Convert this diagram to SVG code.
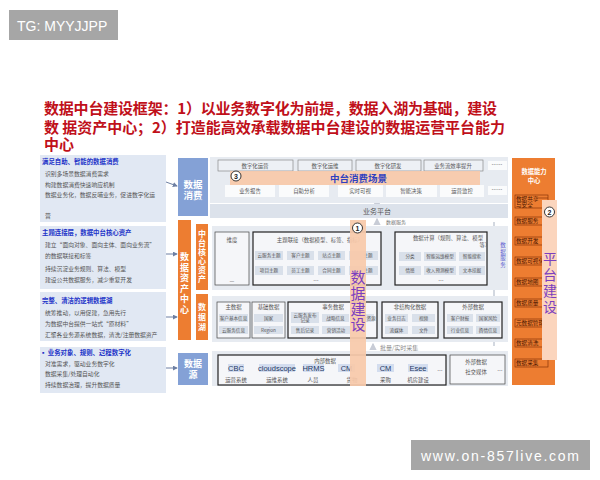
<svg xmlns="http://www.w3.org/2000/svg" width="600" height="480" viewBox="0 0 600 480">
<defs>
<style>
text{font-family:"Noto Sans CJK SC","Noto Sans",sans-serif}
.wm{fill:#a6a6a6}
.wmt{font-family:"Liberation Sans",Arial,sans-serif;fill:#fff;font-size:14px}
.ttl{fill:#c0101a;font-size:15px;font-weight:bold}
.lb{fill:#e1e8f3}
.lh{fill:#2233c8;font-size:6.4px;font-weight:bold}
.li{fill:#555;font-size:5.8px}
.pan{fill:#e7ebf1}
.blue{fill:#84a1d6}
.org{fill:#ed7d31}
.wt{fill:#fff;font-weight:bold;text-anchor:middle}
.b1{fill:#edf0f5;stroke:#7a7a7a;stroke-width:.6}
.b2{fill:#fafbfc}
.s{fill:#555;font-size:5.4px;text-anchor:middle}
.xs{fill:#555;font-size:4.6px;text-anchor:middle}
.bx{fill:#f5f6f9;stroke:#444;stroke-width:.7}
.bxk{fill:#f5f6f9;stroke:#222;stroke-width:1.2}
.cell{fill:#d9e0ea}
.tag{fill:#d3ddef}
.tg{fill:#1f3864;font-size:7.5px;text-anchor:middle;font-family:"Liberation Sans",Arial,sans-serif}
.peach{fill:#f8c9aa;opacity:.93}
.pur{fill:#7b3fbf;text-anchor:middle}
.ri{fill:none;stroke:#7a2a00;stroke-width:.6}
.rt{fill:#4a1500;font-size:5.6px}
.circ{fill:#fff;stroke:#222;stroke-width:.9}
.cn{fill:#222;font-size:7px;font-weight:bold;text-anchor:middle;font-family:"Liberation Sans",Arial,sans-serif}
.con{stroke:#6d7fa3;stroke-width:1;fill:none}
</style>
<marker id="ah" viewBox="0 0 6 6" refX="5" refY="3" markerWidth="5" markerHeight="5" orient="auto-start-reverse"><path d="M0,0L6,3L0,6z" fill="#6d7fa3"/></marker>
<marker id="ah2" viewBox="0 0 6 6" refX="5" refY="3" markerWidth="5" markerHeight="5" orient="auto-start-reverse"><path d="M0,0L6,3L0,6z" fill="#c8ccd6"/></marker>
</defs>
<rect width="600" height="480" fill="#fff"/>

<g id="watermark-top"><rect class="wm" x="9" y="10" width="109" height="30"/><text class="wmt" x="17" y="30.5">TG: MYYJJPP</text></g>
<g id="watermark-bottom"><rect class="wm" x="411" y="440" width="179" height="30"/><text class="wmt" x="421" y="460.5" font-size="15" textLength="158">www.on-857live.com</text></g>

<g id="title">
<text class="ttl" x="44" y="114" textLength="453">数据中台建设框架：1）以业务数字化为前提，数据入湖为基础，建设</text>
<text class="ttl" x="44" y="133" textLength="461">数 据资产中心；2）打造能高效承载数据中台建设的数据运营平台能力</text>
<text class="ttl" x="44" y="150">中心</text>
</g>

<g id="left-1"><rect class="lb" x="40" y="155" width="126" height="67"/>
<text class="lh" x="42" y="164">满足自助、智能的数据消费</text>
<text class="li" x="45" y="176">识别多场景数据消费需求</text>
<text class="li" x="45" y="186.5">构建数据消费快速响应机制</text>
<text class="li" x="45" y="196.5">数据业务化，数据反哺业务，促进数字化运</text>
<text class="li" x="45" y="217.5">营</text></g>
<g id="left-2"><rect class="lb" x="40" y="226" width="126" height="63"/>
<text class="lh" x="42" y="234.5">主题连接层，数据中台核心资产</text>
<text class="li" x="45" y="247">建立“面向对象、面向主体、面向业务流”</text>
<text class="li" x="45" y="258">的数据联接和标签</text>
<text class="li" x="45" y="271">持续沉淀业务规则、算法、模型</text>
<text class="li" x="45" y="281.5">建设公共数据服务，减少重复开发</text></g>
<g id="left-3"><rect class="lb" x="40" y="292" width="126" height="49"/>
<text class="lh" x="42" y="303">完整、清洁的逻辑数据湖</text>
<text class="li" x="45" y="315">统筹推动，以用促建，急用先行</text>
<text class="li" x="45" y="326">为数据中台提供一站式“原材料”</text>
<text class="li" x="45" y="337">汇聚各业务源系统数据，清洗/注册数据资产</text></g>
<g id="left-4"><rect class="lb" x="40" y="347" width="126" height="46"/>
<text class="lh" x="40" y="354.5">▪ 业务对象、规则、过程数字化</text>
<text class="li" x="45" y="365.5">对准需求，驱动业务数字化</text>
<text class="li" x="45" y="375.5">数据采集/处理自动化</text>
<text class="li" x="45" y="386.5">持续数据治理，提升数据质量</text></g>

<g id="connectors">
<path class="con" d="M166,182L177,186" marker-end="url(#ah)"/>
<path class="con" d="M166,254L177,254" marker-end="url(#ah)"/>
<path class="con" d="M166,317L177,317" marker-end="url(#ah)"/>
<path class="con" d="M166,368L177,368" marker-end="url(#ah)"/>
<path d="M383,269L393,269" stroke="#a4a8cc" stroke-width="1.2" marker-start="url(#ah2)" marker-end="url(#ah2)"/>
<path d="M377,225L377,219" stroke="#c8ccd6" stroke-width="1.5" marker-end="url(#ah2)"/>
<path d="M377,204L377,199" stroke="#d4d8e0" stroke-width="1.5" marker-end="url(#ah2)"/>
<path d="M373,350L373,344" stroke="#c8ccd6" stroke-width="1.5" marker-end="url(#ah2)"/>
<path d="M494,222L494,346" stroke="#d3d8e0" stroke-width="2"/>
</g>

<g id="consumption">
<rect class="blue" x="178" y="158" width="30" height="58"/>
<text class="wt" x="193" y="188" font-size="9.5">数据</text><text class="wt" x="193" y="199" font-size="9.5">消费</text>
<rect class="pan" x="210" y="157" width="298" height="46"/>
<rect class="b1" x="218" y="160" width="75" height="11"/><text class="s" x="255" y="167.5">数字化运营</text>
<rect class="b1" x="298" y="160" width="54" height="11"/><text class="s" x="325" y="167.5">数字化运维</text>
<rect class="b1" x="356" y="160" width="65" height="11"/><text class="s" x="388" y="167.5">数字化研发</text>
<rect class="b1" x="424" y="160" width="59" height="11"/><text class="s" x="453" y="167.5">业务流效率提升</text>
<rect class="b2" x="488" y="161" width="19" height="9"/><text class="s" x="497" y="167">……</text>
<rect class="b2" x="225" y="185" width="50" height="12"/><text class="s" x="250" y="193">业务报告</text>
<rect class="b2" x="279" y="185" width="50" height="12"/><text class="s" x="304" y="193">自助分析</text>
<rect class="b2" x="338" y="185" width="45" height="12"/><text class="s" x="360" y="193">实时可视</text>
<rect class="b2" x="386" y="185" width="51" height="12"/><text class="s" x="411" y="193">智能决策</text>
<rect class="b2" x="440" y="185" width="44" height="12"/><text class="s" x="462" y="193">运营监控</text>
<rect class="b2" x="488" y="186" width="19" height="9"/><text class="s" x="497" y="192">……</text>
<rect class="peach" x="230" y="171" width="250" height="14"/>
<text x="330" y="182" font-size="9.5" font-weight="bold" fill="#2f3fc0">中台消费场景</text>
<circle class="circ" cx="236" cy="176" r="5"/><text class="cn" x="236" y="178.5">3</text>
</g>

<g id="business-platform"><rect x="210" y="204" width="298" height="14" fill="#dce2eb"/>
<text x="377" y="213.5" font-size="7" fill="#555" text-anchor="middle">业务平台</text>
<text x="386" y="224" font-size="5" fill="#777">数据服务</text></g>

<g id="asset-center">
<rect class="org" x="178" y="220" width="13" height="120"/>
<text class="wt" x="184.5" font-size="9"><tspan x="184.5" y="260">数</tspan><tspan x="184.5" y="270.5">据</tspan><tspan x="184.5" y="281">资</tspan><tspan x="184.5" y="291.5">产</tspan><tspan x="184.5" y="302">中</tspan><tspan x="184.5" y="312.5">心</tspan></text>
<rect class="org" x="196" y="224" width="12" height="66"/>
<text class="wt" x="202" font-size="8"><tspan x="202" y="237">中</tspan><tspan x="202" y="246">台</tspan><tspan x="202" y="255">核</tspan><tspan x="202" y="264">心</tspan><tspan x="202" y="273">资</tspan><tspan x="202" y="282">产</tspan></text>
<rect class="org" x="196" y="294" width="12" height="46"/>
<text class="wt" x="202" font-size="8"><tspan x="202" y="310">数</tspan><tspan x="202" y="320">据</tspan><tspan x="202" y="330">湖</tspan></text>
</g>

<g id="core-assets">
<rect class="pan" x="212" y="226" width="296" height="64"/>
<rect class="bx" x="215" y="232" width="34" height="53"/><text class="s" x="232" y="242">维度</text><text class="s" x="232" y="283">—</text>
<rect class="bxk" x="253" y="232" width="128" height="53"/><text class="s" x="320" y="242">主题联接（数据模型、标签、指标）</text>
<rect class="cell" x="255" y="251" width="28" height="9"/><text class="xs" x="269" y="257.3">云服务主题</text>
<rect class="cell" x="287" y="251" width="27" height="9"/><text class="xs" x="300.5" y="257.3">客户主题</text>
<rect class="cell" x="318" y="251" width="27" height="9"/><text class="xs" x="331.5" y="257.3">站点主题</text>
<rect class="cell" x="349" y="251" width="29" height="9"/><text class="xs" x="368" y="257.3">主题</text>
<rect class="cell" x="255" y="266" width="28" height="9"/><text class="xs" x="269" y="272.3">项目主题</text>
<rect class="cell" x="287" y="266" width="27" height="9"/><text class="xs" x="300.5" y="272.3">员工主题</text>
<rect class="cell" x="318" y="266" width="27" height="9"/><text class="xs" x="331.5" y="272.3">合同主题</text>
<rect class="cell" x="349" y="266" width="29" height="9"/><text class="xs" x="368" y="272.3">主题</text>
<text class="s" x="316" y="283">…</text>
<rect class="bxk" x="395" y="232" width="92" height="53"/>
<text class="s" x="448" y="240">数据计算（规则、算法、模型</text><text class="s" x="485" y="247">等）</text>
<rect class="cell" x="399" y="252" width="22" height="9"/><text class="xs" x="410" y="258.3">分类</text>
<rect class="cell" x="424" y="252" width="32" height="9"/><text class="xs" x="440" y="258.3">智能运维模型</text>
<rect class="cell" x="459" y="252" width="26" height="9"/><text class="xs" x="472" y="258.3">智能搜索</text>
<rect class="cell" x="399" y="266" width="22" height="9"/><text class="xs" x="410" y="272.3">情感</text>
<rect class="cell" x="424" y="266" width="32" height="9"/><text class="xs" x="440" y="272.3">收入预测模型</text>
<rect class="cell" x="459" y="266" width="26" height="9"/><text class="xs" x="472" y="272.3">文本挖掘</text>
<text class="s" x="441" y="283">…</text>
<text x="503" font-size="5.5" fill="#5a5ad0" text-anchor="middle"><tspan x="503" y="247">数</tspan><tspan x="503" y="253.5">据</tspan><tspan x="503" y="260">服</tspan><tspan x="503" y="266.5">务</tspan></text>
</g>

<g id="data-lake">
<rect class="pan" x="212" y="296" width="296" height="46"/>
<rect class="bx" x="217" y="302" width="33" height="36"/><text class="s" x="233.5" y="309">主数据</text>
<rect class="cell" x="219" y="314" width="29" height="8"/><text class="xs" x="233.5" y="319.6">客户基本信息</text>
<rect class="cell" x="219" y="326" width="29" height="8"/><text class="xs" x="233.5" y="331.6">云服务信息</text>
<rect class="bx" x="252" y="302" width="33" height="36"/><text class="s" x="268.5" y="309">基础数据</text>
<rect class="cell" x="254" y="314" width="29" height="8"/><text class="xs" x="268.5" y="319.6">国家</text>
<rect class="cell" x="254" y="326" width="29" height="8"/><text class="xs" x="268.5" y="331.6">Region</text>
<rect class="bxk" x="288" y="302" width="89" height="36"/><text class="s" x="333" y="309">事务数据</text>
<rect class="cell" x="291" y="312" width="28" height="11"/><text class="xs" x="305" y="316.8">云服务发布</text><text class="xs" x="305" y="321.8">记录</text>
<rect class="cell" x="322" y="314" width="27" height="8"/><text class="xs" x="335.5" y="319.6">战略信息</text>
<rect class="cell" x="291" y="326" width="28" height="8"/><text class="xs" x="305" y="331.6">售后记录</text>
<rect class="cell" x="322" y="326" width="28" height="8"/><text class="xs" x="336" y="331.6">营销活动</text>
<rect class="cell" x="352" y="314" width="22" height="8"/><text class="xs" x="371" y="319.6" text-anchor="end">资源</text>
<rect class="bxk" x="382" y="302" width="56" height="36"/><text class="s" x="410" y="309">非结构化数据</text>
<rect class="cell" x="385" y="314" width="23" height="8"/><text class="xs" x="396.5" y="319.6">业务日志</text>
<rect class="cell" x="412" y="314" width="23" height="8"/><text class="xs" x="423.5" y="319.6">视频</text>
<rect class="cell" x="385" y="326" width="23" height="8"/><text class="xs" x="396.5" y="331.6">流媒体</text>
<rect class="cell" x="412" y="326" width="23" height="8"/><text class="xs" x="423.5" y="331.6">文件</text>
<rect class="bxk" x="444" y="302" width="58" height="36"/><text class="s" x="473" y="309">外部数据</text>
<rect class="cell" x="447" y="314" width="26" height="8"/><text class="xs" x="460" y="319.6">客户财报</text>
<rect class="cell" x="476" y="314" width="24" height="8"/><text class="xs" x="488" y="319.6">国家风险</text>
<rect class="cell" x="447" y="326" width="26" height="8"/><text class="xs" x="460" y="331.6">行业信息</text>
<rect class="cell" x="476" y="326" width="24" height="8"/><text class="xs" x="488" y="331.6">舆情信息</text>
<text x="380" y="350" font-size="6" fill="#8a8a8a">批量/实时采集</text>
</g>

<g id="data-source">
<rect class="blue" x="178" y="353" width="30" height="32"/>
<text class="wt" x="193" y="367" font-size="9">数据</text><text class="wt" x="193" y="378" font-size="9">源</text>
<rect class="pan" x="212" y="351" width="296" height="35"/>
<rect class="bxk" x="218" y="355" width="228" height="30"/><text class="s" x="325" y="362.5">内部数据</text>
<rect class="tag" x="228" y="364" width="16" height="8"/><text class="tg" x="236" y="371">CBC</text><text class="s" x="236" y="381.5" font-size="6">运营系统</text>
<rect class="tag" x="259" y="364" width="36" height="8"/><text class="tg" x="277" y="371">cloudscope</text><text class="s" x="277" y="381.5" font-size="6">运维系统</text>
<rect class="tag" x="303" y="364" width="21" height="8"/><text class="tg" x="313.5" y="371">HRMS</text><text class="s" x="313" y="381.5" font-size="6">人员</text>
<rect class="tag" x="338" y="364" width="17" height="8"/><text class="tg" x="346.5" y="371">CM</text><text class="s" x="352" y="381.5" font-size="6">货物</text>
<rect class="tag" x="377" y="364" width="17" height="8"/><text class="tg" x="385.5" y="371">CM</text><text class="s" x="385.5" y="381.5" font-size="6">采购</text>
<rect class="tag" x="408" y="364" width="20" height="8"/><text class="tg" x="418" y="371">Esee</text><text class="s" x="418" y="381.5" font-size="6">机房建设</text>
<text class="s" x="440" y="373">…</text>
<rect class="bx" x="450" y="355" width="55" height="29"/><text class="s" x="476" y="363.5">外部数据</text><text class="s" x="476" y="373.5">社交媒体</text><text class="s" x="500" y="373">…</text>
</g>

<g id="data-construction">
<rect class="peach" x="350" y="220" width="16" height="166"/>
<circle class="circ" cx="357.5" cy="228" r="5"/><text class="cn" x="357.5" y="230.5">1</text>
<text class="pur" font-size="15"><tspan x="358" y="283">数</tspan><tspan x="358" y="299">据</tspan><tspan x="358" y="314.5">建</tspan><tspan x="358" y="330">设</tspan></text>
</g>

<g id="capability-center">
<rect class="org" x="512" y="158" width="43" height="227"/>
<text class="wt" x="534" y="173.5" font-size="6.3">数据能力</text><text class="wt" x="534" y="182.5" font-size="6.3">中心</text>
<rect class="ri" x="515" y="195" width="33" height="13"/><text class="rt" x="516" y="200.5" font-size="5.3">数据共享</text><text class="rt" x="516" y="207" font-size="5.3">与安全</text><path d="M536,198H548" stroke="#7a2a00" stroke-width=".6"/>
<rect class="ri" x="515" y="217" width="33" height="8"/><text class="rt" x="516" y="223">数据服务</text>
<rect class="ri" x="515" y="237" width="33" height="8"/><text class="rt" x="516" y="243">数据开发</text>
<rect class="ri" x="515" y="257" width="33" height="8"/><text class="rt" x="516" y="263">数据可视化</text>
<rect class="ri" x="515" y="278" width="33" height="8"/><text class="rt" x="516" y="284">数据地图</text>
<rect class="ri" x="515" y="299" width="33" height="8"/><text class="rt" x="516" y="305">数据质量</text>
<rect class="ri" x="515" y="319" width="33" height="8"/><text class="rt" x="516" y="325">元数据管理</text>
<rect class="ri" x="515" y="339" width="33" height="8"/><text class="rt" x="516" y="345">数据清洗</text>
<rect class="ri" x="515" y="359" width="33" height="8"/><text class="rt" x="516" y="365">数据采集</text>
</g>

<g id="platform-construction">
<rect x="542" y="200" width="15" height="160" fill="#fbd5bd"/>
<circle class="circ" cx="549.5" cy="212" r="5"/><text class="cn" x="549.5" y="214.5">2</text>
<text class="pur" font-size="14"><tspan x="550" y="264">平</tspan><tspan x="550" y="280">台</tspan><tspan x="550" y="296">建</tspan><tspan x="550" y="312">设</tspan></text>
</g>
</svg>
